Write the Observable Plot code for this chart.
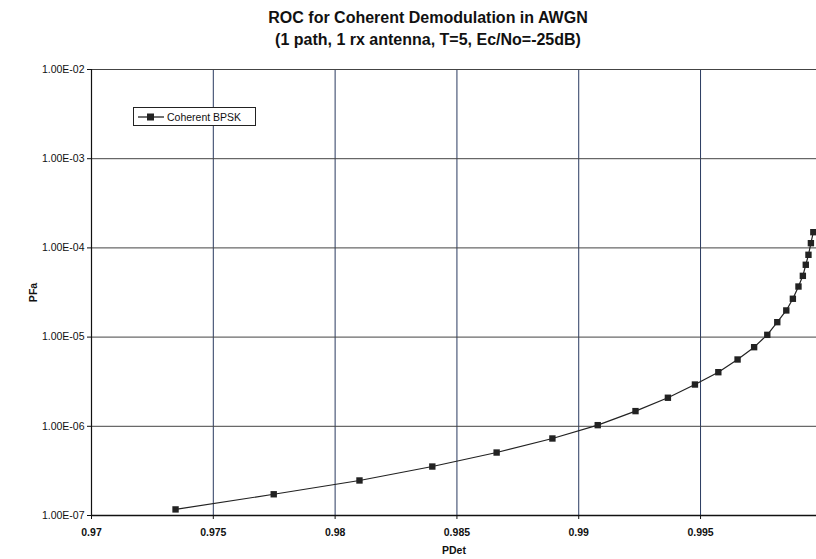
<!DOCTYPE html>
<html>
<head>
<meta charset="utf-8">
<script src="https://cdn.jsdelivr.net/npm/d3@7"></script>
<script src="https://cdn.jsdelivr.net/npm/@observablehq/plot@0.6"></script>
<style>
  html, body { margin: 0; padding: 0; background: #fff; }
  #wrap { position: relative; width: 816px; height: 559px; overflow: hidden; font-family: "Liberation Sans", Arial, sans-serif; }
  #title { position: absolute; left: 40px; top: 7px; width: 776px; text-align: center; font-weight: bold; font-size: 16px; line-height: 22px; color: #111; }
  #chart { position: absolute; left: 0; top: 60px; }
  #legend { position: absolute; left: 133px; top: 107px; width: 121px; height: 17px; border: 1px solid #222; background: #fff; font-size: 10.5px; color: #111; display: flex; align-items: center; }
  #legend svg { margin-left: 4px; margin-right: 3px; }
</style>
</head>
<body>
<div id="wrap">
  <div id="title">ROC for Coherent Demodulation in AWGN<br>(1 path, 1 rx antenna, T=5, Ec/No=-25dB)</div>
  <div id="chart"></div>
  <div id="legend"><svg width="26" height="10"><line x1="0" y1="5" x2="26" y2="5" stroke="#111" stroke-width="1.2"></line><rect x="9" y="1.5" width="7" height="7" fill="#222"></rect></svg>Coherent BPSK</div>
</div>
<script>
const seriesName = "Coherent BPSK";
const pDet = [0.97345, 0.97748, 0.98100, 0.98399, 0.98663, 0.98892, 0.99078, 0.99233, 0.99366, 0.99477, 0.99573, 0.99652, 0.99720, 0.99774, 0.99815, 0.99852, 0.99879, 0.99902, 0.99920, 0.99932, 0.99943, 0.99953, 0.99963];
const pFa = [1.17e-7, 1.73e-7, 2.47e-7, 3.54e-7, 5.08e-7, 7.30e-7, 1.03e-6, 1.48e-6, 2.09e-6, 2.94e-6, 4.04e-6, 5.61e-6, 7.71e-6, 1.06e-5, 1.47e-5, 1.99e-5, 2.69e-5, 3.69e-5, 4.86e-5, 6.47e-5, 8.37e-5, 1.13e-4, 1.50e-4];
const xTicks = [0.97, 0.975, 0.98, 0.985, 0.99, 0.995];
const xTickLabels = ["0.97", "0.975", "0.98", "0.985", "0.99", "0.995"];
const yTicks = [1e-7, 1e-6, 1e-5, 1e-4, 1e-3, 1e-2];
const yTickLabels = ["1.00E-07", "1.00E-06", "1.00E-05", "1.00E-04", "1.00E-03", "1.00E-02"];

const data = pDet.map((x, i) => ({x, y: pFa[i]}));

const chart = Plot.plot({
  width: 816,
  height: 499,
  marginTop: 9,
  marginBottom: 44,
  marginLeft: 91,
  marginRight: 0,
  style: {fontFamily: "'Liberation Sans', Arial, sans-serif", fontSize: "10.5px", color: "#111", background: "transparent"},
  x: {domain: [0.97, 0.99976]},
  y: {type: "log", domain: [1e-7, 1e-2]},
  marks: [
    Plot.gridX(xTicks, {stroke: "#2a3a60", strokeOpacity: 1, strokeWidth: 1}),
    Plot.gridY(yTicks, {stroke: "#444", strokeOpacity: 1, strokeWidth: 1}),
    Plot.axisX(xTicks, {
      tickSize: 4, tickPadding: 9,
      tickFormat: (d) => xTickLabels[xTicks.indexOf(d)],
      fontWeight: "bold", fontSize: 10.5,
      label: "PDet", labelAnchor: "center", labelArrow: "none", labelOffset: 38
    }),
    Plot.axisY(yTicks, {
      tickSize: 4, tickPadding: 3,
      tickFormat: (d) => yTickLabels[yTicks.indexOf(d)],
      fontSize: 10.5,
      label: "PFa", labelAnchor: "center", labelArrow: "none", labelOffset: 62
    }),
    Plot.ruleX([0.97], {stroke: "#111", strokeWidth: 1.2}),
    Plot.ruleY([1e-7], {stroke: "#111", strokeWidth: 1.5}),
    Plot.line(data, {x: "x", y: "y", stroke: "#222", strokeWidth: 1.2}),
    Plot.dot(data, {x: "x", y: "y", symbol: "square", r: 3.6, fill: "#222", stroke: "none"})
  ]
});
chart.querySelectorAll("g[aria-label='x-axis label'] text, g[aria-label='y-axis label'] text").forEach(t => t.setAttribute("font-weight", "bold"));
document.getElementById("chart").appendChild(chart);
</script>
</body>
</html>
